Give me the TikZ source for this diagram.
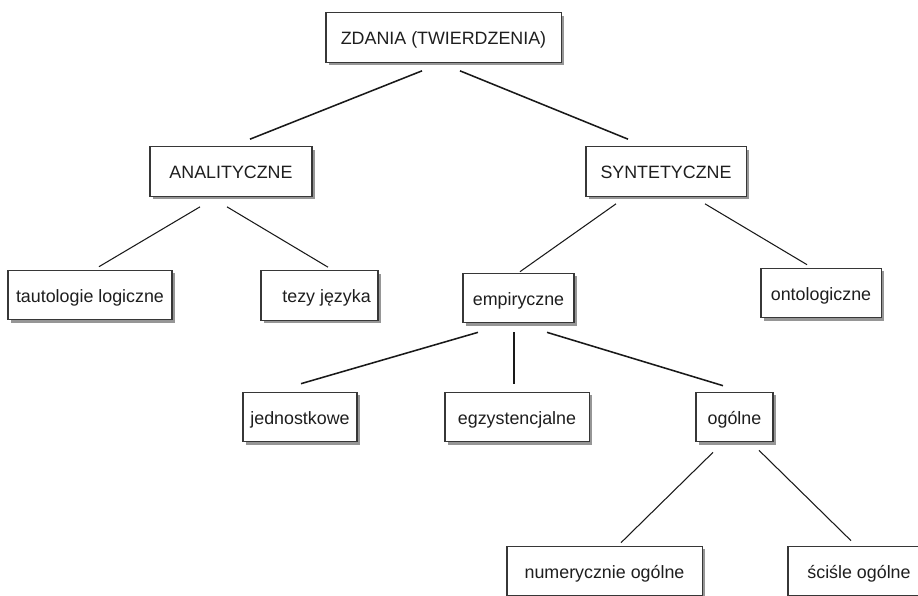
\documentclass[tikz,border=0pt]{standalone}
\usepackage{fontspec}
\setmainfont{Liberation Sans}
\usepackage{tikz}
\usetikzlibrary{calc, shadows}
\definecolor{boxline}{RGB}{55,55,55}
\definecolor{shadowgray}{RGB}{150,150,150}
\definecolor{textdark}{RGB}{30,30,30}

\begin{document}
\begin{tikzpicture}[
    x=0.025cm, y=-0.025cm,
    box/.style={rectangle, draw=boxline, line width=0.75pt, fill=white,
                minimum height=1.24cm, inner sep=0pt,
                text height=10.5pt, text depth=0pt, text=textdark,
                font=\fontsize{12.7}{15}\selectfont,
                drop shadow={shadow xshift=0.07cm, shadow yshift=-0.07cm,
                             fill=shadowgray, opacity=1}},
    link/.style={line width=0.75pt, draw=black!90},
    thicklink/.style={line width=1.1pt, draw=black!90}
]
\useasboundingbox (0,0) rectangle (918,595);

% level 0 and 1
\node[box, minimum width=5.875cm] (zdania) at (443.5,37.5) {ZDANIA (TWIERDZENIA)};
\node[box, minimum width=4.05cm]  (anal)   at (231,171.5)  {ANALITYCZNE};
\node[box, minimum width=4.0cm]   (synt)   at (666,171.5)  {SYNTETYCZNE};

% level 2
\node[box, minimum width=4.1cm]   (taut)   at (90,295)     {tautologie logiczne};
\node[box, minimum width=2.925cm] (tezy)   at (319.5,295.5){\hspace{10pt}tezy języka};
\node[box, minimum width=2.775cm] (empi)   at (518.5,298)  {empiryczne};
\node[box, minimum width=3.0cm]   (onto)   at (821,293)    {ontologiczne\hspace{8pt}};

% level 3
\node[box, minimum width=2.85cm]  (jedn)   at (300,417)    {jednostkowe};
\node[box, minimum width=3.6cm]   (egzy)   at (517,417)    {egzystencjalne};
\node[box, minimum width=1.925cm] (ogol)   at (734.5,417)  {ogólne};

% level 4
\node[box, minimum width=4.875cm] (nume)   at (604.5,571)  {numerycznie ogólne};
\node[box, minimum width=3.55cm]  (scis)   at (859,571)    {ściśle ogólne};

\draw[thicklink] ($(zdania.south)+(-21.5,8)$) -- ($(anal.north)+(19,-7)$);
\draw[thicklink] ($(zdania.south)+(16.5,8)$)  -- ($(synt.north)+(-38,-7)$);

\draw[link] ($(anal.south)+(-31,10)$) -- ($(taut.north)+(9,-3)$);
\draw[link] ($(anal.south)+(-4,10)$)  -- ($(tezy.north)+(8.5,-3)$);

\draw[link] ($(synt.south)+(-50,7)$) -- ($(empi.north)+(1.5,-1)$);
\draw[link] ($(synt.south)+(39,7)$)  -- ($(onto.north)+(-14,-3)$);

\draw[thicklink] ($(empi.south)+(-40.5,9)$) -- ($(jedn.north)+(1,-8)$);
\draw[link]      ($(empi.south)+(-4.5,9)$)  -- ($(egzy.north)+(-3,-8)$);
\draw[thicklink] ($(empi.south)+(28.5,9)$)  -- ($(ogol.north)+(-11.5,-6)$);

\draw[link] ($(ogol.south)+(-21.5,10)$) -- ($(nume.north)+(16.5,-3)$);
\draw[link] ($(ogol.south)+(24.5,8)$)   -- ($(scis.north)+(-8,-5)$);
\end{tikzpicture}
\end{document}
